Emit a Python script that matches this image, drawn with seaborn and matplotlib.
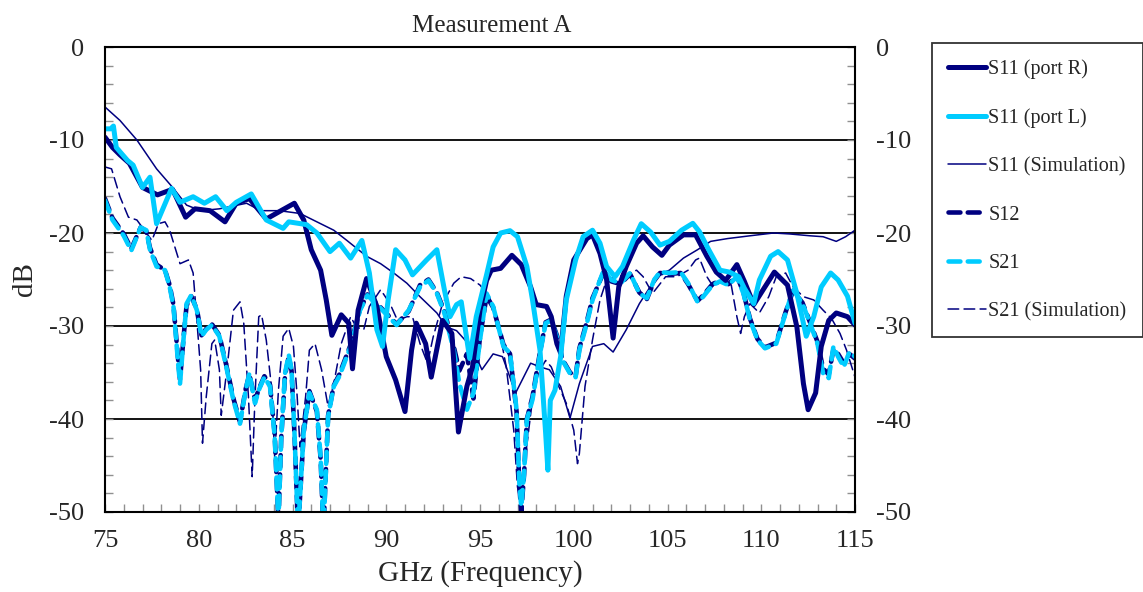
import matplotlib
matplotlib.use("Agg")
import matplotlib.pyplot as plt
from matplotlib.ticker import MultipleLocator
import seaborn as sns
import pandas as pd

# --- data (GHz, dB) ---
freq_r = [75.0, 75.4, 75.8, 76.3, 77.0, 77.8, 78.6, 79.3, 79.8, 80.6,
          81.4, 82.0, 82.7, 83.6, 84.3, 85.1, 85.6, 86.0, 86.5, 86.8,
          87.1, 87.6, 88.0, 88.2, 88.5, 88.95, 89.5, 90.0, 90.5, 91.0,
          91.35, 91.6, 92.1, 92.4, 93.0, 93.5, 93.85, 94.3, 94.6, 95.0,
          95.35, 95.6, 96.1, 96.7, 97.2, 97.7, 98.0, 98.55, 98.8, 99.1,
          99.3, 99.6, 100.0, 100.7, 101.0, 101.4, 101.75, 102.1, 102.4, 102.8,
          103.35, 103.7, 104.2, 104.7, 105.1, 105.85, 106.5, 107.1, 107.6, 108.1,
          108.7, 109.1, 109.6, 110.1, 110.7, 111.4, 111.9, 112.25, 112.5, 112.9,
          113.2, 113.6, 114.0, 114.6, 115.0]
s11_port_r = [-9.7, -10.8, -11.6, -12.5, -15.1, -15.9, -15.3, -18.3, -17.4, -17.6,
              -18.8, -16.8, -16.3, -18.5, -17.7, -16.8, -18.6, -21.8, -24.0, -27.2,
              -31.0, -28.8, -29.7, -34.6, -28.3, -24.9, -27.9, -33.3, -35.8, -39.2,
              -32.6, -29.7, -31.9, -35.5, -29.4, -30.8, -41.4, -36.5, -34.4, -28.3,
              -25.1, -24.0, -23.8, -22.4, -23.4, -25.8, -27.7, -27.9, -29.0, -31.9,
              -32.9, -26.8, -22.9, -20.6, -20.2, -22.2, -25.0, -31.3, -25.8, -23.6,
              -21.1, -20.3, -21.5, -22.4, -21.3, -20.2, -20.2, -22.5, -24.2, -25.1,
              -23.4, -25.2, -27.7, -26.1, -24.2, -25.6, -30.1, -36.2, -39.0, -37.2,
              -32.2, -29.4, -28.6, -29.0, -29.9]

freq_l = [75.0, 75.3, 75.45, 75.6, 76.2, 76.5, 77.0, 77.4, 77.75, 78.55,
          79.0, 79.7, 80.3, 80.9, 81.5, 82.0, 82.8, 83.6, 84.5, 84.8,
          85.75, 86.3, 87.0, 87.5, 88.1, 88.7, 89.1, 89.5, 89.8, 90.1,
          90.5, 91.0, 91.4, 92.15, 92.7, 93.1, 93.4, 93.75, 94.0, 94.45,
          94.8, 95.35, 95.7, 96.1, 96.6, 97.0, 97.5, 97.8, 98.2, 98.5,
          98.62, 98.75, 99.0, 99.3, 99.6, 100.1, 100.5, 101.0, 101.4, 101.75,
          102.2, 102.6, 103.2, 103.6, 104.1, 104.6, 105.1, 105.75, 106.35, 106.7,
          107.2, 107.8, 108.3, 108.8, 109.1, 109.6, 109.9, 110.5, 110.9, 111.4,
          111.9, 112.4, 112.8, 113.2, 113.7, 114.1, 114.6, 115.0]
s11_port_l = [-8.8, -8.8, -8.5, -10.8, -12.2, -12.7, -15.1, -14.0, -19.0, -15.2,
              -16.7, -16.1, -16.8, -16.1, -17.6, -16.7, -15.8, -18.6, -19.5, -18.8,
              -19.1, -20.0, -22.0, -21.1, -22.7, -20.8, -24.3, -30.4, -32.2, -27.2,
              -21.8, -22.9, -24.5, -22.9, -21.8, -26.1, -29.0, -27.7, -27.4, -33.5,
              -29.0, -24.5, -21.5, -20.0, -19.75, -20.4, -23.6, -27.2, -32.6, -41.5,
              -45.5, -38.0, -36.9, -33.3, -27.2, -22.9, -20.4, -19.7, -21.1, -23.6,
              -24.7, -23.6, -20.7, -19.0, -19.9, -21.3, -20.9, -19.7, -18.96, -19.85,
              -21.8, -24.0, -24.2, -24.7, -25.95, -27.6, -25.05, -22.5, -22.0, -22.9,
              -26.5, -31.1, -29.0, -25.8, -24.3, -25.05, -26.8, -29.7]

freq_s11_sim = [75.0, 75.8, 76.7, 77.75, 78.65, 79.35, 80.1, 81.1, 82.55, 83.3,
                84.3, 85.4, 86.1, 87.2, 87.9, 88.95, 89.7, 90.4, 91.1, 91.8,
                92.7, 93.2, 93.75, 94.6, 95.1, 95.7, 96.2, 96.9, 97.7, 98.2,
                98.7, 99.3, 99.8, 100.3, 101.0, 101.6, 102.1, 102.8, 103.5, 104.2,
                104.6, 105.1, 105.85, 106.6, 107.3, 108.2, 109.4, 110.65, 111.5, 112.6,
                113.3, 114.0, 114.5, 115.0]
s11_sim = [-6.45, -7.9, -10.0, -13.1, -15.2, -17.0, -17.6, -17.4, -16.8, -17.6,
           -17.6, -17.9, -18.6, -19.7, -20.8, -22.5, -23.3, -24.3, -25.4, -26.85,
           -28.6, -30.1, -30.5, -32.4, -34.7, -33.0, -33.3, -37.2, -34.0, -34.4,
           -34.7, -36.5, -39.9, -36.2, -32.2, -31.9, -32.8, -30.4, -27.6, -25.4,
           -24.4, -24.0, -22.7, -21.8, -20.9, -20.6, -20.3, -20.0, -20.1, -20.3,
           -20.4, -20.9, -20.4, -19.7]

freq_t = [75.0, 75.4, 76.0, 76.4, 76.9, 77.2, 77.4, 77.75, 78.2, 78.45,
          78.65, 78.9, 79.0, 79.2, 79.35, 79.6, 79.9, 80.15, 80.4, 80.7,
          81.1, 81.5, 81.85, 82.2, 82.5, 82.7, 83.0, 83.2, 83.5, 83.8,
          84.05, 84.25, 84.4, 84.6, 84.8, 84.95, 85.1, 85.3, 85.6, 85.9,
          86.3, 86.5, 86.65, 86.9, 87.2, 87.5, 88.1, 88.6, 89.0, 89.7,
          90.55, 91.2, 91.8, 92.25, 92.7, 93.1, 93.6, 93.9, 94.3, 94.65,
          95.0, 95.35, 95.7, 96.25, 96.6, 96.95, 97.1, 97.2, 97.35, 97.5,
          97.8, 98.2, 98.5, 98.8, 99.1, 99.4, 99.8, 100.1, 100.3, 100.7,
          101.0, 101.6, 102.0, 102.5, 103.0, 103.5, 103.9, 104.3, 104.6, 105.1,
          105.7, 106.1, 106.6, 106.9, 107.4, 107.8, 108.25, 108.7, 109.05, 109.4,
          109.8, 110.2, 110.8, 111.3, 111.7, 112.2, 112.6, 113.0, 113.3, 113.6,
          113.85, 114.1, 114.4, 114.7, 115.0]
s12 = [-16.3, -18.4, -20.1, -21.7, -19.4, -19.8, -21.6, -23.4, -24.0, -25.6,
       -27.7, -33.6, -35.8, -31.0, -27.8, -26.8, -28.2, -31.0, -30.3, -29.8,
       -31.0, -34.5, -37.8, -40.3, -36.8, -35.2, -38.0, -36.8, -35.4, -36.3,
       -41.6, -51.0, -42.0, -35.3, -33.3, -34.8, -41.4, -52.0, -41.4, -37.0,
       -39.2, -44.3, -52.0, -39.6, -36.4, -35.2, -32.0, -28.2, -26.6, -28.0,
       -29.8, -28.4, -25.6, -25.0, -26.4, -28.4, -32.2, -34.8, -33.0, -37.8,
       -31.2, -26.8, -28.0, -32.0, -33.0, -39.2, -47.2, -50.0, -46.0, -40.0,
       -37.6, -32.8, -29.6, -29.3, -31.0, -33.6, -35.0, -35.4, -32.4, -29.5,
       -27.0, -24.2, -25.2, -25.5, -24.4, -26.4, -27.1, -25.1, -24.3, -24.4,
       -24.3, -25.5, -27.3, -26.7, -25.5, -25.1, -25.5, -24.6, -26.4, -29.2,
       -31.4, -32.3, -31.8, -28.5, -26.2, -27.5, -29.6, -31.7, -34.6, -35.2,
       -32.5, -33.0, -34.0, -33.0, -33.5]
s21 = [-16.5, -18.6, -20.3, -21.9, -19.4, -19.7, -21.8, -23.6, -24.0, -25.8,
       -27.9, -34.0, -36.2, -31.1, -27.6, -26.7, -28.3, -31.1, -30.4, -29.9,
       -31.1, -34.7, -38.0, -40.5, -36.9, -35.1, -38.3, -36.9, -35.5, -36.5,
       -41.9, -51.0, -41.9, -35.1, -33.1, -34.7, -41.2, -52.0, -41.2, -37.2,
       -39.0, -44.1, -52.0, -39.75, -36.5, -35.4, -32.2, -28.3, -26.7, -28.1,
       -29.9, -28.3, -25.8, -25.1, -26.5, -28.6, -32.6, -36.2, -39.0, -37.2,
       -31.5, -26.5, -27.9, -32.2, -32.9, -39.0, -46.9, -49.4, -45.8, -40.1,
       -37.9, -33.0, -29.7, -29.4, -31.2, -33.7, -35.1, -35.5, -32.6, -29.7,
       -27.2, -24.0, -25.05, -25.4, -24.3, -26.5, -27.0, -25.0, -24.2, -24.3,
       -24.2, -25.4, -27.4, -26.85, -25.6, -25.2, -25.6, -24.7, -26.5, -29.35,
       -31.5, -32.4, -31.9, -28.6, -26.1, -27.6, -29.7, -31.9, -35.1, -35.6,
       -32.2, -33.3, -34.4, -32.8, -33.3]

freq_s21_sim = [75.0, 75.35, 75.8, 76.25, 76.7, 77.1, 77.5, 77.85, 78.2, 78.45,
                79.0, 79.45, 79.7, 79.9, 80.1, 80.2, 80.4, 80.7, 80.85, 81.1,
                81.2, 81.5, 81.85, 82.2, 82.4, 82.65, 82.85, 83.0, 83.2, 83.35,
                83.6, 83.9, 84.05, 84.25, 84.5, 84.8, 85.05, 85.25, 85.4, 85.7,
                85.9, 86.2, 86.55, 86.9, 87.2, 87.6, 88.1, 88.4, 88.8, 89.1,
                89.7, 90.2, 90.6, 91.1, 91.4, 91.8, 92.2, 92.5, 93.0, 93.6,
                94.0, 94.5, 95.0, 95.5, 96.0, 96.4, 96.8, 97.0, 97.2, 97.4,
                97.75, 98.1, 98.5, 98.8, 99.2, 99.6, 100.0, 100.2, 100.3, 100.6,
                101.0, 101.4, 101.75, 102.3, 102.8, 103.35, 103.7, 104.2, 104.9, 105.5,
                106.1, 106.5, 106.7, 107.1, 107.45, 108.0, 108.4, 108.7, 108.9, 109.1,
                109.4, 109.9, 110.4, 110.8, 111.3, 111.7, 112.25, 112.8, 113.3, 113.75,
                114.2, 114.55, 115.0]
s21_sim = [-12.9, -13.1, -16.1, -18.3, -18.6, -19.7, -20.8, -19.0, -18.8, -19.7,
           -23.3, -22.9, -24.3, -29.4, -34.7, -42.6, -37.6, -31.9, -31.5, -34.7,
           -39.6, -34.7, -28.3, -27.4, -29.7, -37.6, -46.2, -37.6, -29.0, -28.8,
           -31.5, -36.9, -44.1, -36.9, -31.1, -30.25, -32.2, -37.6, -43.0, -37.6,
           -32.6, -31.9, -34.7, -38.7, -36.2, -31.9, -29.0, -30.1, -30.4, -27.9,
           -26.1, -27.6, -29.4, -29.0, -29.0, -31.9, -34.0, -31.2, -27.6, -25.4,
           -24.7, -24.9, -25.6, -26.85, -30.1, -34.4, -41.2, -47.3, -49.4, -44.4,
           -38.7, -35.1, -33.7, -34.4, -36.5, -38.3, -41.2, -44.8, -43.7, -36.5,
           -31.5, -27.2, -25.05, -24.7, -24.5, -24.0, -24.7, -26.5, -24.7, -24.7,
           -24.0, -22.9, -22.7, -24.7, -25.8, -25.05, -25.6, -29.0, -30.8, -29.0,
           -27.6, -28.6, -26.85, -24.7, -24.3, -25.8, -26.85, -27.2, -28.3, -29.2,
           -30.8, -32.6, -35.5]

x_ticks = [75, 80, 85, 90, 95, 100, 105, 110, 115]
y_ticks = [0, -10, -20, -30, -40, -50]

NAVY = "#000080"
CYAN = "#00CCFF"

sns.set_style("white")
plt.rcParams["font.family"] = ["Liberation Serif", "DejaVu Serif"]
plt.rcParams["axes.unicode_minus"] = False

fig = plt.figure(figsize=(11.43, 5.92), dpi=100)
ax = fig.add_axes([105 / 1143, 80 / 592, 750 / 1143, 465 / 592])

# series: (label, freq, values, color, width, dash pattern)
series = [
    ("S11 (Simulation)", freq_s11_sim, s11_sim, NAVY, 1.1, "-"),
    ("S21 (Simulation)", freq_s21_sim, s21_sim, NAVY, 1.1, (0, (7, 3.5))),
    ("S12", freq_t, s12, NAVY, 3.3, (0, (2.6, 1.6))),
    ("S21", freq_t, s21, CYAN, 3.3, (0, (2.6, 1.6))),
    ("S11 (port R)", freq_r, s11_port_r, NAVY, 3.6, "-"),
    ("S11 (port L)", freq_l, s11_port_l, CYAN, 3.6, "-"),
]
handles = {}
for label, fx, fy, col, lw, ls in series:
    df = pd.DataFrame({"GHz": fx, "dB": fy})
    sns.lineplot(data=df, x="GHz", y="dB", ax=ax, color=col, linewidth=lw,
                 linestyle=ls, errorbar=None, sort=False, dash_capstyle="round",
                 solid_joinstyle="round")
    handles[label] = ax.lines[-1]

ax.set_xlim(75, 115)
ax.set_ylim(-50, 0)
ax.set_xticks(x_ticks)
ax.set_yticks(y_ticks)
ax.xaxis.set_minor_locator(MultipleLocator(1))
ax.yaxis.set_minor_locator(MultipleLocator(2))
ax.yaxis.grid(True, which="major", color="black", linewidth=1.3)
ax.set_axisbelow(True)
for sp in ax.spines.values():
    sp.set_color("black")
    sp.set_linewidth(1.5)
ax.tick_params(axis="both", which="both", direction="in", color="#909090",
               length=6, width=1, labelsize=19)
ax.tick_params(axis="y", which="both", left=True, right=True, labelright=True, pad=15)
ax.tick_params(axis="x", which="both", bottom=True, top=False, pad=13)
ax.set_xlabel("GHz (Frequency)", fontsize=21, labelpad=6)
ax.set_ylabel("dB", fontsize=21, labelpad=8)
fig.text(492 / 1143, 1 - 26 / 592, "Measurement A", fontsize=18, ha="center", va="center")

order = ["S11 (port R)", "S11 (port L)", "S11 (Simulation)", "S12", "S21", "S21 (Simulation)"]
leg = fig.legend([handles[k] for k in order], order, loc="upper left",
                 bbox_to_anchor=(932 / 1143, 1 - 43 / 592), borderaxespad=0,
                 fontsize=14.5, frameon=True, fancybox=False, edgecolor="black",
                 handlelength=1.9, handletextpad=0.1, labelspacing=1.45,
                 borderpad=0.8)
leg.get_frame().set_linewidth(1.3)

fig.savefig("out.png", dpi=100)
